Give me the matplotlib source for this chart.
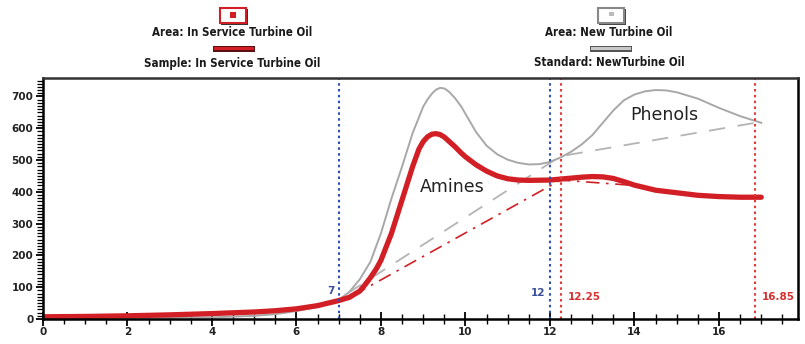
import numpy as np
import matplotlib.pyplot as plt
from matplotlib.patches import Rectangle
from matplotlib.ticker import MultipleLocator

# sample: in service turbine oil (thick red)
sample_x = [0, 1, 2, 3, 4, 5, 5.5, 6, 6.5, 7, 7.25, 7.5, 7.6, 7.75, 7.9, 8.0, 8.25,
            8.5, 8.75, 8.9, 9.0, 9.1, 9.2, 9.3, 9.4, 9.5, 9.6, 9.75, 9.9, 10.0,
            10.25, 10.5, 10.75, 11.0, 11.25, 11.5, 12.0, 12.5, 12.75, 13.0, 13.25,
            13.5, 13.75, 14.0, 14.5, 15.0, 15.5, 16.0, 16.5, 17.0]
sample_y = [7, 8, 10, 13, 17, 22, 26, 32, 42, 58, 68, 88, 104, 130, 160, 185, 270,
            375, 480, 535, 558, 573, 581, 583, 580, 572, 560, 542, 522, 510,
            485, 465, 450, 441, 437, 436, 437, 443, 446, 448, 447,
            442, 432, 421, 405, 397, 389, 385, 383, 383]

# standard: new turbine oil (thin grey)
std_x = [0, 2, 4, 5, 5.5, 6, 6.5, 7, 7.25, 7.5, 7.75, 8.0, 8.25, 8.5, 8.75, 9.0,
         9.1, 9.2, 9.3, 9.4, 9.5, 9.6, 9.75, 9.9, 10.0, 10.25, 10.5, 10.75, 11.0,
         11.25, 11.5, 11.75, 12.0, 12.25, 12.5, 12.75, 13.0, 13.25, 13.5, 13.75,
         14.0, 14.25, 14.5, 14.75, 15.0, 15.5, 16.0, 16.5, 17.0]
std_y = [2, 3, 5, 10, 15, 25, 38, 60, 85, 125, 180, 270, 380, 480, 585, 668,
         690, 708, 721, 727, 725, 716, 695, 668, 645, 588, 545, 518, 501,
         491, 486, 487, 494, 508, 526, 549, 578, 617, 656, 688,
         706, 716, 720, 719, 713, 693, 664, 638, 617]

# baselines
amine_base_x = [7.35, 12.25, 14.2]
amine_base_y = [75, 437, 418]
phenol_base_x = [7.2, 12.25, 16.9]
phenol_base_y = [80, 512, 618]

# markers
blue_marks = [7, 12]
red_marks = [12.25, 16.85]

RED = '#d21f26'
GREY = '#a8a8a8'
BLUE = '#2e4fb8'

fig = plt.figure(figsize=(8.05, 3.44), dpi=100)
ax = fig.add_axes([0.0534, 0.0727, 0.9913 - 0.0534, 0.7733 - 0.0727])

ax.plot(phenol_base_x, phenol_base_y, color='#b4b4b4', lw=1.3, ls=(0, (9, 7)))
ax.plot(amine_base_x, amine_base_y, color=RED, lw=1.2, ls=(0, (8, 4, 1.5, 4)))
ax.plot(std_x, std_y, color=GREY, lw=1.4)
ax.plot(sample_x, sample_y, color=RED, lw=3.8, solid_capstyle='round', solid_joinstyle='round')

for xv in blue_marks:
    ax.axvline(xv, color=BLUE, lw=1.5, ls=(0, (1.2, 1.6)))
for xv in red_marks:
    ax.axvline(xv, color='#e23a3a', lw=1.5, ls=(0, (1.2, 1.6)))

ax.text(6.9, 88, '7', color='#3a4f9a', fontsize=7.5, fontweight='bold', ha='right', va='center')
ax.text(11.9, 82, '12', color='#3a4f9a', fontsize=7.5, fontweight='bold', ha='right', va='center')
ax.text(12.42, 70, '12.25', color='#d83030', fontsize=7.5, fontweight='bold', ha='left', va='center')
ax.text(17.02, 70, '16.85', color='#d83030', fontsize=7.5, fontweight='bold', ha='left', va='center')

ax.text(9.69, 416, 'Amines', fontsize=12.5, ha='center', va='center', color='#222222')
ax.text(14.7, 642, 'Phenols', fontsize=12.5, ha='center', va='center', color='#222222')

ax.set_xlim(0, 17.87)
ax.set_ylim(0, 758)
ax.xaxis.set_major_locator(MultipleLocator(2))
ax.xaxis.set_minor_locator(MultipleLocator(0.5))
ax.yaxis.set_major_locator(MultipleLocator(100))
ax.yaxis.set_minor_locator(MultipleLocator(10))
ax.tick_params(axis='x', which='major', direction='inout', length=10, width=1.3, labelsize=7.5, pad=1)
ax.tick_params(axis='x', which='minor', direction='inout', length=7, width=1.0)
ax.tick_params(axis='y', which='major', direction='out', length=5, width=1.3, labelsize=7.5, pad=2)
ax.tick_params(axis='y', which='minor', direction='out', length=4, width=0.9)
for lab in ax.get_xticklabels() + ax.get_yticklabels():
    lab.set_fontweight('bold')
    lab.set_color('#222222')
for side in ['left', 'bottom', 'right']:
    ax.spines[side].set_linewidth(1.8)
ax.spines['top'].set_linewidth(1.8)
ax.spines['top'].set_color('#333333')


# legend drawn in figure pixels
def fbox(cx, cy, w, h, **kw):
    W, H = 805, 344
    fig.patches.append(Rectangle(((cx - w / 2) / W, 1 - (cy + h / 2) / H), w / W, h / H,
                                 transform=fig.transFigure, **kw))


def ftext(cx, cy, s):
    fig.text(cx / 805, 1 - cy / 344, s, ha='center', va='center', fontsize=8.3,
             fontweight='bold', fontstretch='condensed', family='DejaVu Sans',
             color='#1a1a1a')


# left group
fbox(234, 17, 27, 16, facecolor='#333333', edgecolor='none')
fbox(233, 15, 26, 15, facecolor='white', edgecolor=RED, lw=1.5)
fbox(233, 15, 6, 6, facecolor=RED, edgecolor='none')
ftext(232, 33, 'Area: In Service Turbine Oil')
fbox(234, 49, 42, 5, facecolor='#5a1010', edgecolor='none')
fbox(234, 48.5, 40, 3.5, facecolor=RED, edgecolor='none')
ftext(232, 63, 'Sample: In Service Turbine Oil')

# right group
fbox(612, 17, 27, 16, facecolor='#444444', edgecolor='none')
fbox(611, 15, 26, 15, facecolor='white', edgecolor='#888888', lw=1.5)
fbox(611, 14, 5, 4, facecolor='#bbbbbb', edgecolor='none')
ftext(609, 33, 'Area: New Turbine Oil')
fbox(611, 49, 42, 5, facecolor='#555555', edgecolor='none')
fbox(611, 48.5, 40, 3.5, facecolor='#c8c8c8', edgecolor='none')
ftext(609, 63, 'Standard: NewTurbine Oil')

fig.savefig('out.png', dpi=100)
